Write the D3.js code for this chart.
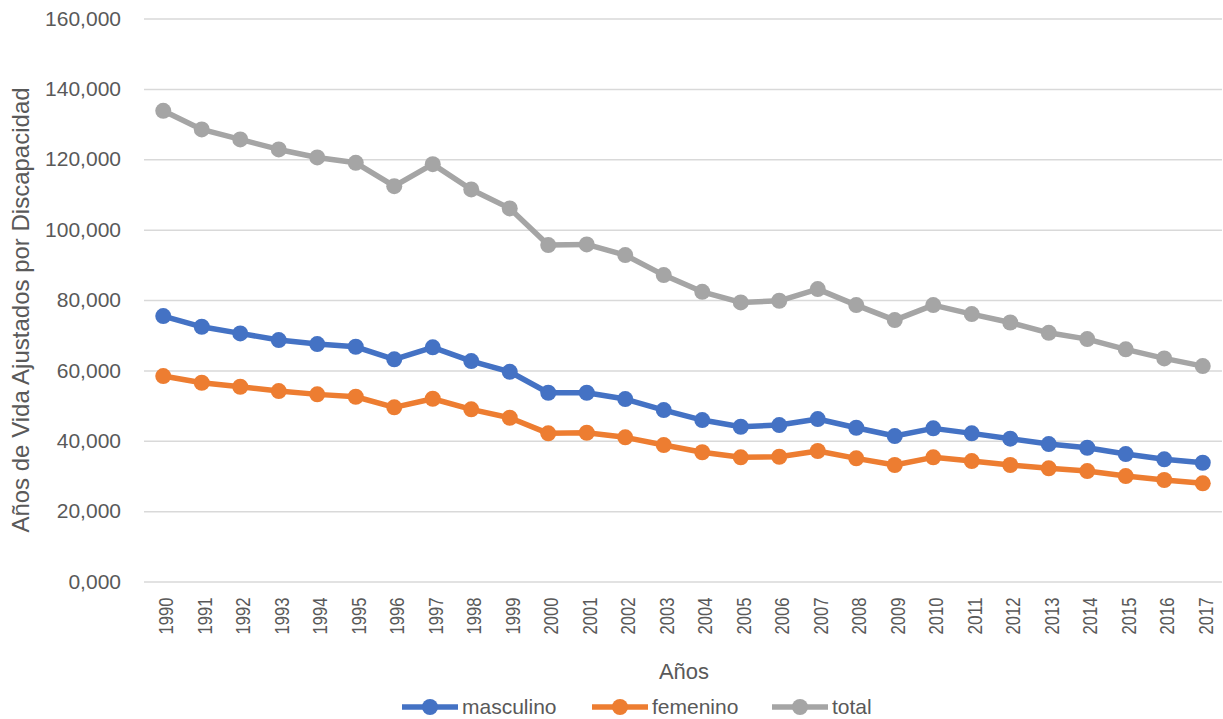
<!DOCTYPE html>
<html lang="es">
<head>
<meta charset="utf-8">
<title>Años de Vida Ajustados por Discapacidad</title>
<script src="https://d3js.org/d3.v7.min.js"></script>
<style>
  body { margin: 0; background: #fff; }
  svg text { font-family: "Liberation Sans", Arial, sans-serif; fill: #595959; }
</style>
</head>
<body>
<script>
// data
var years = [1990, 1991, 1992, 1993, 1994, 1995, 1996, 1997, 1998, 1999,
             2000, 2001, 2002, 2003, 2004, 2005, 2006, 2007, 2008, 2009,
             2010, 2011, 2012, 2013, 2014, 2015, 2016, 2017];

var masculino = [75430, 72390, 70510, 68610, 67470, 66710, 63130, 66540, 62640, 59600,
                 53640, 53640, 51850, 48720, 45880, 43980, 44460, 46170, 43700, 41340,
                 43520, 42100, 40580, 39060, 38010, 36220, 34720, 33750];

var femenino = [58380, 56480, 55340, 54120, 53180, 52500, 49490, 51930, 48920, 46540,
                42100, 42270, 40970, 38780, 36730, 35290, 35460, 37080, 35000, 33100,
                35290, 34230, 33100, 32160, 31390, 29970, 28840, 27900];

var total = [133760, 128470, 125630, 122790, 120510, 118980, 112360, 118610, 111420, 106030,
             95600, 95800, 92760, 87080, 82330, 79320, 79780, 83100, 78550, 74290,
             78550, 76000, 73600, 70680, 68890, 65970, 63410, 61220];

var yTicks = [0, 20000, 40000, 60000, 80000, 100000, 120000, 140000, 160000];
var yTickLabels = ["0,000", "20,000", "40,000", "60,000", "80,000", "100,000", "120,000", "140,000", "160,000"];

var seriesNames = ["masculino", "femenino", "total"];
var seriesColors = ["#4472C4", "#ED7D31", "#A5A5A5"];

var W = 1223, H = 719;
var plotLeft = 144, plotRight = 1222, plotTop = 18.5, plotBottom = 581.5;

var svg = d3.select("body").append("svg")
  .attr("width", W)
  .attr("height", H);

var x = d3.scaleBand()
  .domain(years)
  .range([plotLeft, plotRight]);

var y = d3.scaleLinear()
  .domain([0, 160000])
  .range([plotBottom, plotTop]);

// gridlines + y labels
var yAxis = d3.axisLeft(y)
  .tickValues(yTicks)
  .tickSize(-(plotRight - plotLeft))
  .tickPadding(23)
  .tickFormat(function(d, i) { return yTickLabels[i]; });

var gy = svg.append("g")
  .attr("transform", "translate(" + plotLeft + ",0)")
  .call(yAxis);
gy.select(".domain").remove();
gy.selectAll("line").attr("stroke", "#D9D9D9").attr("stroke-width", 1.5);
gy.selectAll("text")
  .style("font-size", "21px")
  .attr("fill", "#595959");

// x labels (narrowed a bit to mimic the original font)
var xAxis = d3.axisBottom(x).tickSize(0).tickPadding(0);
var gx = svg.append("g")
  .attr("transform", "translate(0," + plotBottom + ")")
  .call(xAxis);
gx.select(".domain").remove();
gx.selectAll("text")
  .attr("fill", "#595959")
  .style("font-size", "19.5px")
  .attr("text-anchor", "end")
  .attr("textLength", 37)
  .attr("lengthAdjust", "spacingAndGlyphs")
  .attr("transform", "rotate(-90)")
  .attr("x", -16)
  .attr("y", 3)
  .attr("dy", "0.35em");

// lines
var allSeries = [masculino, femenino, total];
var line = d3.line()
  .x(function(d, i) { return x(years[i]) + x.bandwidth() / 2; })
  .y(function(d) { return y(d); });

allSeries.forEach(function(vals, k) {
  var g = svg.append("g");
  g.append("path")
    .datum(vals)
    .attr("d", line)
    .attr("fill", "none")
    .attr("stroke", seriesColors[k])
    .attr("stroke-width", 5.5)
    .attr("stroke-linejoin", "round");
  g.selectAll("circle")
    .data(vals)
    .enter().append("circle")
    .attr("cx", function(d, i) { return x(years[i]) + x.bandwidth() / 2; })
    .attr("cy", function(d) { return y(d); })
    .attr("r", 8)
    .attr("fill", seriesColors[k]);
});

// axis titles
svg.append("text")
  .attr("x", 684)
  .attr("y", 679)
  .attr("text-anchor", "middle")
  .style("font-size", "22px")
  .text("Años");

svg.append("text")
  .attr("transform", "translate(29,310) rotate(-90)")
  .attr("text-anchor", "middle")
  .style("font-size", "24px")
  .text("Años de Vida Ajustados por Discapacidad");

// legend
var legendX = [402, 592, 772];
var legend = svg.selectAll(".legend")
  .data(seriesNames)
  .enter().append("g")
  .attr("class", "legend")
  .attr("transform", function(d, i) { return "translate(" + legendX[i] + ",707)"; });

legend.append("line")
  .attr("x1", 0).attr("x2", 56)
  .attr("y1", 0).attr("y2", 0)
  .attr("stroke", function(d, i) { return seriesColors[i]; })
  .attr("stroke-width", 5.5);
legend.append("circle")
  .attr("cx", 28).attr("cy", 0).attr("r", 8)
  .attr("fill", function(d, i) { return seriesColors[i]; });
legend.append("text")
  .attr("x", 60)
  .attr("y", 7)
  .style("font-size", "21px")
  .text(function(d) { return d; });
</script>
</body>
</html>
